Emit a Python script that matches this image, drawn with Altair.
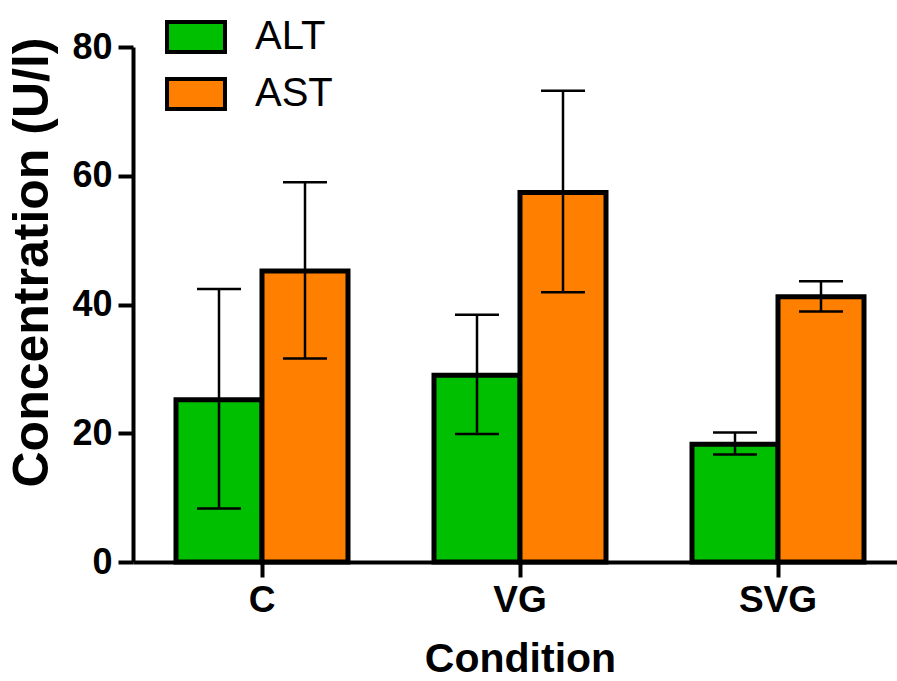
import altair as alt
import pandas as pd

conditions = ["C", "VG", "SVG"]
enzymes = ["ALT", "AST"]
alt_mean = [25.2, 29.0, 18.3]
alt_low = [8.3, 19.9, 16.7]
alt_high = [42.4, 38.4, 20.1]
ast_mean = [45.2, 57.4, 41.2]
ast_low = [31.6, 41.9, 38.9]
ast_high = [59.0, 73.2, 43.6]
y_ticks = [0, 20, 40, 60, 80]
colors = ["#00BE00", "#FF8000"]

rows = []
for i, c in enumerate(conditions):
    rows.append(dict(Condition=c, Enzyme="ALT", mean=alt_mean[i], low=alt_low[i], high=alt_high[i]))
    rows.append(dict(Condition=c, Enzyme="AST", mean=ast_mean[i], low=ast_low[i], high=ast_high[i]))
df = pd.DataFrame(rows)

FONT = "Liberation Sans"

x_enc = alt.X(
    "Condition:N",
    sort=conditions,
    scale=alt.Scale(range=[0, 774], paddingInner=0, paddingOuter=0),
    axis=alt.Axis(
        title="Condition", titleFont=FONT, titleFontSize=41, titleFontWeight="bold",
        titleColor="black", titleX=387, titleY=109, titleBaseline="alphabetic", titleAlign="center",
        labelAngle=0, labelFont=FONT, labelFontSize=37, labelFontWeight="bold", labelColor="black",
        labelPadding=5, tickSize=15, tickWidth=4, tickColor="black",
        domainWidth=4, domainColor="black", grid=False,
    ),
)
xoff_enc = alt.XOffset("Enzyme:N", sort=enzymes,
                       scale=alt.Scale(paddingInner=0, paddingOuter=0.5))

y_enc = alt.Y(
    "mean:Q",
    scale=alt.Scale(domain=[0, 80], nice=False),
    axis=alt.Axis(
        values=y_ticks, title="Concentration (U/l)", titleFont=FONT, titleFontSize=50,
        titleFontWeight="bold", titleColor="black", titleAngle=270, titleX=-101, titleY=215,
        titleAlign="center", titleBaseline="middle",
        labelFont=FONT, labelFontSize=36, labelFontWeight="bold", labelColor="black",
        labelPadding=6, tickSize=15, tickWidth=4, tickColor="black",
        domainWidth=4, domainColor="black", grid=False,
    ),
)

color_enc = alt.Color(
    "Enzyme:N",
    scale=alt.Scale(domain=enzymes, range=colors),
    legend=alt.Legend(
        title=None, orient="none", legendX=40, legendY=-33,
        symbolType="M-1.38,-0.71H1.38V0.71H-1.38Z", symbolSize=1764,
        symbolStrokeColor="black", symbolStrokeWidth=4, symbolOpacity=1,
        labelFont=FONT, labelFontSize=40, labelFontWeight="normal", labelColor="black",
        labelOffset=36, rowPadding=11, padding=0,
    ),
)

base = alt.Chart(df)

bars = base.mark_bar(stroke="black", strokeWidth=5, opacity=1).encode(
    x=x_enc, xOffset=xoff_enc, y=y_enc, color=color_enc
)

rules = base.mark_rule(color="black", strokeWidth=2.5).encode(
    x=x_enc, xOffset=xoff_enc, y=alt.Y("low:Q"), y2="high:Q"
)

caps = base.transform_fold(["low", "high"], as_=["end", "val"]).mark_tick(
    color="black", thickness=2.5, size=44, opacity=1
).encode(
    x=x_enc, xOffset=xoff_enc, y=alt.Y("val:Q")
)

chart = alt.layer(bars, rules, caps).properties(
    width=764, height=515,
    autosize=alt.AutoSizeParams(type="none"),
    padding={"left": 133, "top": 47, "right": 0, "bottom": 119},
    background="white",
).configure_view(stroke=None)

chart.save("out.html", embed_options={"renderer": "svg", "actions": False})
